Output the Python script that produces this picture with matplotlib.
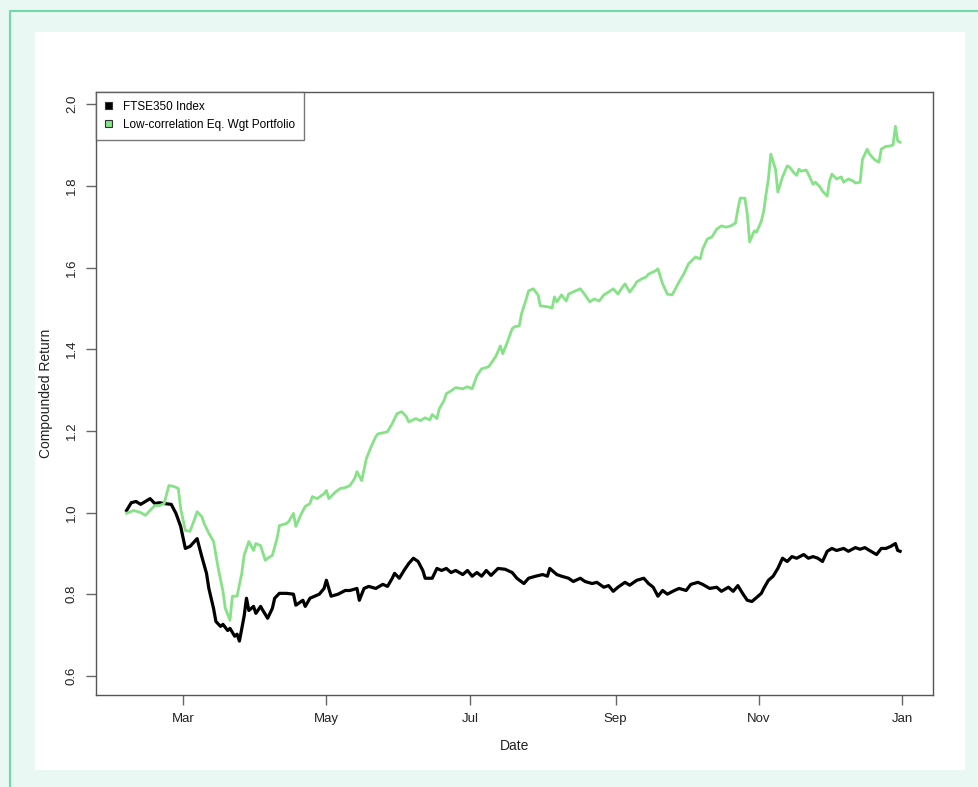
import numpy as np
import pandas as pd
import matplotlib
matplotlib.use("Agg")
import matplotlib.pyplot as plt
import matplotlib.dates as mdates
from matplotlib.patches import Rectangle, Patch

plt.rcParams['font.family'] = ['Liberation Sans', 'DejaVu Sans']

# day of year (2009) and compounded return, FTSE350 index
ftse_day = [36, 38, 40, 42, 44, 46, 48, 50, 52, 55, 57, 59, 61, 63, 66, 68, 70, 71, 73, 74,
            76, 77, 79, 80, 82, 83, 84, 86, 87, 88, 90, 91, 93, 94, 96, 98, 99, 101, 104, 107,
            108, 111, 112, 114, 116, 118, 120, 121, 123, 126, 129, 131, 134, 135, 137, 139, 142, 145, 147, 149,
            150, 152, 154, 156, 158, 160, 162, 163, 166, 168, 170, 172, 174, 176, 179, 181, 183, 185, 187, 189,
            191, 194, 197, 200, 202, 205, 207, 210, 213, 215, 216, 219, 221, 224, 226, 229, 231, 234, 236, 239,
            241, 243, 245, 248, 250, 253, 256, 258, 260, 262, 264, 266, 269, 271, 274, 276, 279, 281, 284, 287,
            289, 292, 294, 296, 298, 300, 302, 304, 306, 307, 309, 311, 313, 315, 317, 319, 321, 324, 326, 328,
            330, 332, 334, 336, 338, 341, 343, 346, 348, 350, 352, 355, 357, 359, 361, 363, 364, 365]
ftse_ret = [1.005, 1.024, 1.027, 1.020, 1.027, 1.034, 1.022, 1.024, 1.022, 1.020, 0.998, 0.966, 0.912, 0.917, 0.936, 0.892, 0.851, 0.814, 0.765, 0.733,
            0.721, 0.726, 0.711, 0.716, 0.697, 0.702, 0.685, 0.746, 0.790, 0.760, 0.770, 0.753, 0.770, 0.760, 0.741, 0.765, 0.790, 0.802, 0.802, 0.800,
            0.773, 0.785, 0.770, 0.790, 0.795, 0.800, 0.814, 0.834, 0.795, 0.800, 0.809, 0.809, 0.814, 0.785, 0.814, 0.819, 0.814, 0.824, 0.819, 0.839,
            0.851, 0.839, 0.858, 0.875, 0.888, 0.880, 0.858, 0.839, 0.839, 0.863, 0.858, 0.863, 0.853, 0.858, 0.848, 0.858, 0.844, 0.853, 0.844, 0.858,
            0.846, 0.863, 0.861, 0.853, 0.839, 0.826, 0.839, 0.844, 0.848, 0.844, 0.863, 0.848, 0.844, 0.839, 0.831, 0.839, 0.831, 0.826, 0.829, 0.817,
            0.821, 0.807, 0.817, 0.829, 0.822, 0.834, 0.839, 0.826, 0.817, 0.795, 0.809, 0.800, 0.809, 0.814, 0.809, 0.824, 0.829, 0.824, 0.814, 0.817,
            0.807, 0.817, 0.807, 0.821, 0.802, 0.785, 0.782, 0.792, 0.802, 0.814, 0.834, 0.844, 0.863, 0.888, 0.880, 0.892, 0.888, 0.897, 0.888, 0.892,
            0.888, 0.880, 0.905, 0.912, 0.907, 0.912, 0.905, 0.914, 0.910, 0.914, 0.907, 0.897, 0.912, 0.912, 0.917, 0.924, 0.907, 0.905]

# day of year (2009) and compounded return, low-correlation equal weight portfolio
port_day = [36, 39, 42, 44, 46, 48, 50, 52, 54, 56, 58, 59, 61, 63, 65, 66, 68, 69, 71, 73,
            75, 77, 78, 80, 81, 83, 85, 86, 88, 90, 91, 93, 95, 96, 98, 100, 101, 104, 105, 107,
            108, 110, 112, 114, 115, 117, 120, 121, 122, 125, 127, 129, 131, 133, 134, 136, 138, 140, 142, 143,
            145, 147, 149, 151, 153, 155, 156, 159, 161, 163, 165, 166, 168, 169, 171, 172, 174, 176, 179, 181,
            183, 185, 187, 190, 193, 195, 196, 198, 200, 201, 203, 204, 206, 207, 209, 211, 212, 215, 217, 218,
            219, 221, 223, 224, 227, 229, 231, 233, 235, 237, 239, 241, 243, 245, 247, 248, 250, 252, 253, 255,
            257, 258, 261, 262, 264, 266, 268, 269, 271, 273, 275, 278, 280, 281, 283, 285, 287, 289, 291, 293,
            295, 296, 297, 299, 300, 301, 303, 304, 306, 307, 308, 309, 310, 312, 313, 315, 317, 318, 320, 321,
            322, 323, 325, 326, 328, 329, 331, 332, 334, 335, 336, 338, 340, 341, 343, 345, 346, 348, 349, 351,
            352, 354, 356, 357, 359, 360, 362, 363, 364, 365]
port_ret = [0.998, 1.005, 1.000, 0.993, 1.005, 1.017, 1.017, 1.022, 1.066, 1.064, 1.059, 1.010, 0.956, 0.954, 0.985, 1.002, 0.990, 0.973, 0.949, 0.929,
            0.863, 0.807, 0.765, 0.736, 0.795, 0.795, 0.851, 0.895, 0.929, 0.907, 0.924, 0.919, 0.883, 0.888, 0.895, 0.936, 0.968, 0.973, 0.978, 0.998,
            0.966, 0.993, 1.015, 1.022, 1.039, 1.034, 1.046, 1.054, 1.034, 1.051, 1.059, 1.061, 1.066, 1.083, 1.100, 1.078, 1.132, 1.161, 1.186, 1.193,
            1.195, 1.198, 1.218, 1.242, 1.247, 1.235, 1.222, 1.230, 1.225, 1.232, 1.227, 1.240, 1.230, 1.254, 1.274, 1.291, 1.298, 1.306, 1.303, 1.308,
            1.303, 1.335, 1.352, 1.357, 1.382, 1.408, 1.389, 1.418, 1.450, 1.455, 1.457, 1.487, 1.523, 1.543, 1.548, 1.533, 1.506, 1.504, 1.501, 1.528,
            1.516, 1.533, 1.518, 1.535, 1.543, 1.548, 1.533, 1.516, 1.523, 1.518, 1.533, 1.540, 1.548, 1.535, 1.553, 1.560, 1.540, 1.555, 1.565, 1.572,
            1.577, 1.584, 1.592, 1.597, 1.560, 1.535, 1.533, 1.543, 1.565, 1.584, 1.609, 1.626, 1.621, 1.645, 1.670, 1.675, 1.694, 1.702, 1.699, 1.702,
            1.709, 1.743, 1.770, 1.770, 1.731, 1.663, 1.690, 1.687, 1.714, 1.738, 1.780, 1.817, 1.878, 1.841, 1.785, 1.822, 1.849, 1.846, 1.831, 1.826,
            1.841, 1.836, 1.839, 1.829, 1.804, 1.809, 1.797, 1.787, 1.775, 1.812, 1.829, 1.817, 1.822, 1.809, 1.817, 1.812, 1.807, 1.809, 1.865, 1.890,
            1.878, 1.865, 1.858, 1.890, 1.897, 1.897, 1.900, 1.946, 1.910, 1.907]

legend_labels = ['FTSE350 Index', 'Low-correlation Eq. Wgt Portfolio']
y_ticks = [0.6, 0.8, 1.0, 1.2, 1.4, 1.6, 1.8, 2.0]
x_ticks = ['2009-03-01', '2009-05-01', '2009-07-01', '2009-09-01', '2009-11-01', '2010-01-01']

origin = pd.Timestamp('2009-01-01')
ftse_dates = [origin + pd.Timedelta(days=d - 1) for d in ftse_day]
port_dates = [origin + pd.Timedelta(days=d - 1) for d in port_day]

W, H = 979, 787
fig = plt.figure(figsize=(W / 100, H / 100), dpi=100)
fig.patch.set_facecolor('#e9f8f2')

# page frame and white plotting panel
fig.patches.append(Rectangle((10 / W, -0.1), 1.2, 1 - 11 / H + 0.1, transform=fig.transFigure,
                             facecolor='none', edgecolor='#72d9a9', linewidth=1.5, zorder=-2))
fig.patches.append(Rectangle((35 / W, 1 - 770 / H), 930 / W, 738 / H, transform=fig.transFigure,
                             facecolor='white', edgecolor='none', zorder=-1))

ax = fig.add_axes([96 / W, 1 - 695 / H, (933 - 96) / W, (695 - 92) / H])
ax.set_zorder(1)
ax.set_facecolor('white')

ax.plot(ftse_dates, ftse_ret, color='black', linewidth=2.3, solid_joinstyle='round')
ax.plot(port_dates, port_ret, color='#86e286', linewidth=2.0, solid_joinstyle='round')

ax.set_ylim(0.553, 2.03)
ax.set_xlim(pd.Timestamp('2009-01-23'), pd.Timestamp('2010-01-14'))
ax.set_yticks(y_ticks)
ax.set_yticklabels([f'{v:.1f}' for v in y_ticks], rotation=90, va='center')
ax.set_xticks(pd.to_datetime(x_ticks))
ax.xaxis.set_major_formatter(mdates.DateFormatter('%b'))

for s in ax.spines.values():
    s.set_color('#555555')
    s.set_linewidth(1.0)
ax.tick_params(axis='both', direction='out', length=7, width=1.0, color='#666666',
               labelsize=9.5, labelcolor='#222222', pad=6)

ax.set_xlabel('Date', fontsize=10, color='#222222', labelpad=10)
ax.set_ylabel('Compounded Return', fontsize=10, color='#222222', labelpad=9)

handles = [Patch(facecolor='black', edgecolor='#333333', linewidth=0.8),
           Patch(facecolor='#86e286', edgecolor='#333333', linewidth=0.8)]
leg = ax.legend(handles, legend_labels, loc='upper left', bbox_to_anchor=(0, 1),
                fontsize=8.5, frameon=True, fancybox=False, borderaxespad=0,
                handlelength=0.6, handleheight=0.6, handletextpad=0.9,
                labelspacing=0.5, borderpad=0.75)
leg.get_frame().set_edgecolor('#555555')
leg.get_frame().set_linewidth(1.0)

fig.savefig('out.png', dpi=100, facecolor=fig.get_facecolor())
